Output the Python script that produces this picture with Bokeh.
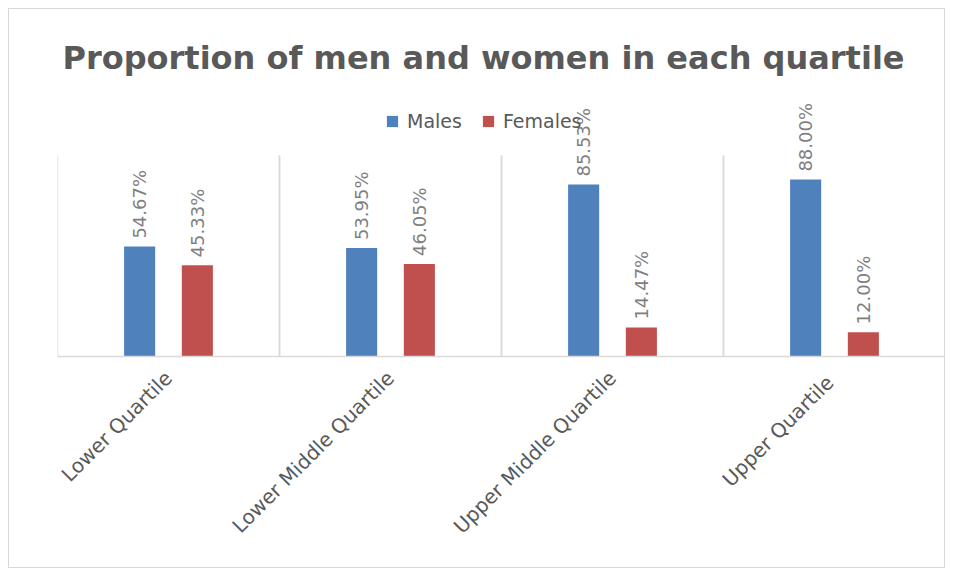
from math import pi
from bokeh.plotting import figure
from bokeh.models import (ColumnDataSource, FactorRange, LabelSet,
                          Label, Legend, LegendItem)
from bokeh.transform import dodge
from bokeh.embed import file_html
from bokeh.resources import INLINE
from bokeh.core.properties import value

categories = ["Lower Quartile", "Lower Middle Quartile", "Upper Middle Quartile", "Upper  Quartile"]
males = [54.67, 53.95, 85.53, 88.00]
females = [45.33, 46.05, 14.47, 12.00]
series_names = ["Males", "Females"]
title_text = "Proportion of men and women in each quartile"

src = ColumnDataSource(dict(
    cat=categories,
    males=males,
    females=females,
    male_lbl=[f"{v:.2f}%" for v in males],
    female_lbl=[f"{v:.2f}%" for v in females],
))

FONT = "DejaVu Sans"
Y_MAX = 100
Y_TOP = 172.6  # extra headroom so title/legend/labels sit inside the frame

p = figure(x_range=FactorRange(factors=categories), y_range=(0, Y_TOP),
           width=937, height=560, output_backend="svg", toolbar_location=None,
           min_border_left=48, min_border_right=1, min_border_top=0,
           min_border_bottom=213)
p.styles = {"border": "1px solid #D9D9D9", "margin-left": "8px", "margin-top": "8px"}
p.outline_line_color = None
p.yaxis.visible = False
p.ygrid.grid_line_color = None
p.xgrid.grid_line_color = None

ax = p.xaxis[0]
ax.axis_line_color = "#D9D9D9"
ax.axis_line_width = 1.5
ax.major_tick_line_color = None
ax.minor_tick_line_color = None
ax.major_label_orientation = pi / 4
ax.major_label_text_font = FONT
ax.major_label_text_font_size = "20px"
ax.major_label_text_color = "#595959"
ax.major_label_standoff = 12

# category separator lines (vertical grid between categories)
for edge in (-0.5, 0.5):
    p.segment(x0=dodge("cat", edge, range=p.x_range), y0=0,
              x1=dodge("cat", edge, range=p.x_range), y1=Y_MAX,
              source=src, line_color="#D9D9D9", line_width=1.5)

off = 0.13
bw = 0.14
r1 = p.vbar(x=dodge("cat", -off, range=p.x_range), top="males", width=bw,
            source=src, fill_color="#4F81BD", line_color=None)
r2 = p.vbar(x=dodge("cat", off, range=p.x_range), top="females", width=bw,
            source=src, fill_color="#C0504D", line_color=None)

for col, lbl, o in (("males", "male_lbl", -off), ("females", "female_lbl", off)):
    ls = LabelSet(x=dodge("cat", o, range=p.x_range), y=col, text=lbl, source=src,
                  angle=pi / 2, text_align="left", text_baseline="middle",
                  y_offset=8, text_font=value(FONT), text_font_size=value("18px"),
                  text_color="#7F7F7F")
    p.add_layout(ls)

legend = Legend(items=[LegendItem(label=series_names[0], renderers=[r1]),
                       LegendItem(label=series_names[1], renderers=[r2])],
                orientation="horizontal", location=(328, 224),
                border_line_color=None, background_fill_alpha=0,
                glyph_width=14, glyph_height=14, label_standoff=8, spacing=19,
                padding=0, margin=0, label_text_font=FONT,
                label_text_font_size="19px", label_text_color="#595959")
p.add_layout(legend)

title = Label(x=426, y=299, x_units="screen", y_units="screen", text=title_text,
              text_align="center", text_baseline="middle", text_font=FONT,
              text_font_size="32px", text_font_style="bold", text_color="#595959")
p.add_layout(title)

open("out.html", "w").write(file_html(p, INLINE))
